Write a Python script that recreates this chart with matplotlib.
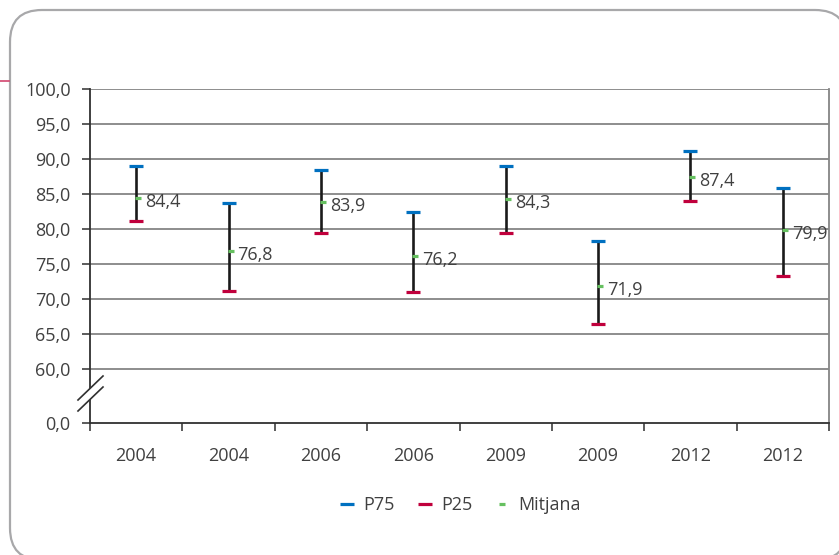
import numpy as np
import matplotlib
matplotlib.use("Agg")
import matplotlib.pyplot as plt
from matplotlib.lines import Line2D
from matplotlib.path import Path
from matplotlib.patches import FancyBboxPatch, Polygon

categories = ['2004', '2004', '2006', '2006', '2009', '2009', '2012', '2012']
p75 = [89.0, 83.7, 88.4, 82.4, 89.0, 78.3, 91.1, 85.9]
p25 = [81.2, 71.1, 79.4, 71.0, 79.4, 66.4, 84.0, 73.3]
mitjana = [84.4, 76.8, 83.9, 76.2, 84.3, 71.9, 87.4, 79.9]
yticks = [0, 60, 65, 70, 75, 80, 85, 90, 95, 100]

plt.rcParams['font.family'] = ['Open Sans', 'DejaVu Sans']
FS = 13

W, H = 839, 555
fig = plt.figure(figsize=(W / 100, H / 100), dpi=100)

def px(x, y):
    return x / W, 1 - y / H

# rounded frame
frame = FancyBboxPatch(px(10, 560), 837 / W, 550 / H,
                       boxstyle="round,pad=0,rounding_size=0.038",
                       transform=fig.transFigure, fc='white', ec='#a8a8aa',
                       lw=1.6, zorder=0, mutation_aspect=W / H)
fig.add_artist(frame)
fig.add_artist(Line2D([0, 9 / W], [1 - 80.5 / H] * 2, transform=fig.transFigure,
                      color='#d2456e', lw=1.2))

L, R, T, B = 90, 829, 89, 423
ax = fig.add_axes([L / W, 1 - B / H, (R - L) / W, (B - T) / H])
ax.set_facecolor('none')

GAP = 54 / 7.0
def fwd(v):
    v = np.asarray(v, dtype=float)
    return np.where(v >= 60, v, 60 - (60 - v) * GAP / 60)
def inv(t):
    t = np.asarray(t, dtype=float)
    return np.where(t >= 60, t, 60 - (60 - t) * 60 / GAP)
ax.set_yscale('function', functions=(fwd, inv))
ax.set_ylim(0, 100)
ax.set_xlim(-0.5, len(categories) - 0.5)

x = np.arange(len(categories))

# gridlines
for v in yticks[1:]:
    ax.axhline(v, color='#858585', lw=1.3, zorder=1)

ax.vlines(x, p25, p75, color='#1a1a1a', lw=1.9, zorder=3)
ax.plot(x, p75, ls='none', marker='_', ms=10, mew=2.3, color='#0070c0', zorder=4)
ax.plot(x, p25, ls='none', marker='_', ms=10, mew=2.3, color='#c0003c', zorder=4)
mk = Path([(-0.2, 0), (1, 0)], [Path.MOVETO, Path.LINETO])
ax.plot(x, mitjana, ls='none', marker=mk, ms=7.5, mew=2.3, color='#66c060', zorder=5)

for xi, m in zip(x, mitjana):
    ax.annotate(f"{m:.1f}".replace('.', ','), (xi, m), xytext=(9, -4),
                textcoords='offset pixels', ha='left', va='center',
                fontsize=FS, color='#404040', zorder=6)

ax.set_yticks(yticks)
ax.set_yticklabels([f"{v:.1f}".replace('.', ',') for v in yticks])
ax.set_xticks(np.arange(-0.5, len(categories), 1))
ax.set_xticklabels([])
ax.set_xticks(x, minor=True)
ax.set_xticklabels(categories, minor=True)
ax.tick_params(axis='y', length=6, width=1.2, color='#404040', pad=8,
               labelsize=FS, labelcolor='#404040')
ax.tick_params(axis='x', which='major', length=6, width=1.2, color='#404040')
ax.tick_params(axis='x', which='minor', length=0, pad=17,
               labelsize=FS, labelcolor='#404040')

for s in ['left', 'bottom']:
    ax.spines[s].set_color('#303030')
    ax.spines[s].set_linewidth(1.3)
ax.spines['top'].set_visible(False)
ax.spines['right'].set_color('#858585')
ax.spines['right'].set_linewidth(1.3)

# axis break marks
poly = Polygon([px(78, 400), px(103, 376), px(103, 387), px(78, 411)],
               closed=True, transform=fig.transFigure, fc='white', ec='none', zorder=10)
fig.add_artist(poly)
for (x0, y0, x1, y1) in [(78, 400, 103, 376), (78, 411, 103, 387)]:
    a, b = px(x0, y0)
    c, d = px(x1, y1)
    fig.add_artist(Line2D([a, c], [b, d], transform=fig.transFigure,
                          color='#303030', lw=1.2, zorder=11))

handles = [
    Line2D([], [], ls='none', marker='_', ms=10, mew=2.3, color='#0070c0'),
    Line2D([], [], ls='none', marker='_', ms=10, mew=2.3, color='#c0003c'),
    Line2D([], [], ls='none', marker='_', ms=5, mew=2.3, color='#66c060'),
]
leg = ax.legend(handles, ['P75', 'P25', 'Mitjana'], loc='center',
                bbox_to_anchor=(0.5, (B - 505) / (B - T)), ncol=3, frameon=False,
                fontsize=FS, handlelength=1.0, handletextpad=0.4,
                columnspacing=1.15, labelcolor='#404040')

fig.savefig('out.png', dpi=100)
